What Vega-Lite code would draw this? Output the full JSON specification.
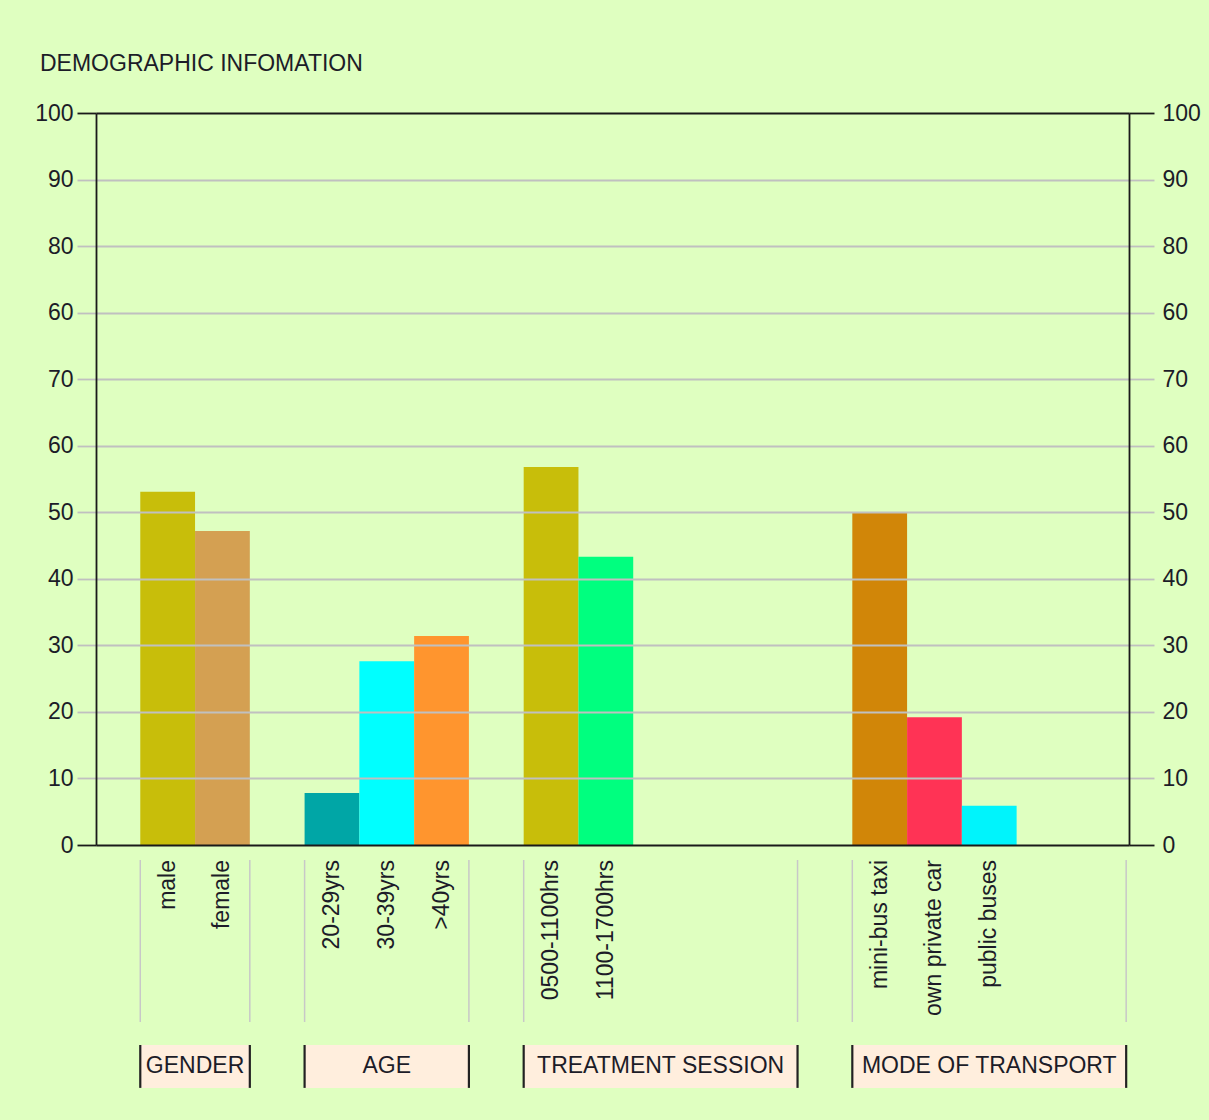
{
  "$schema": "https://vega.github.io/schema/vega-lite/v6.json",
  "width": 1033,
  "height": 732,
  "autosize": {"type": "none"},
  "padding": {"left": 96, "top": 113, "right": 80, "bottom": 275},
  "background": "#DFFFC0",
  "config": {
    "font": "Liberation Sans",
    "view": {"stroke": null}
  },
  "title": {
    "text": "DEMOGRAPHIC INFOMATION",
    "anchor": "start",
    "frame": "group",
    "dx": -56,
    "offset": 8,
    "fontSize": 23,
    "fontWeight": "normal",
    "color": "#1c1c28",
    "baseline": "alphabetic"
  },
  "datasets": {
    "bars": [
      {"category": "male", "value": 53.1},
      {"category": "female", "value": 47.2},
      {"category": "20-29yrs", "value": 7.8},
      {"category": "30-39yrs", "value": 27.6},
      {"category": ">40yrs", "value": 31.4},
      {"category": "0500-1100hrs", "value": 56.8},
      {"category": "1100-1700hrs", "value": 43.3},
      {"category": "mini-bus taxi", "value": 50.0},
      {"category": "own private car", "value": 19.2},
      {"category": "public buses", "value": 5.9}
    ],
    "groups": [
      {"group": "GENDER", "first": "male", "last": "female", "mid": "female"},
      {"group": "AGE", "first": "20-29yrs", "last": ">40yrs", "mid": "30-39yrs"},
      {"group": "TREATMENT SESSION", "first": "0500-1100hrs", "last": "gap5", "mid": "gap3"},
      {"group": "MODE OF TRANSPORT", "first": "mini-bus taxi", "last": "gap8", "mid": "public buses"}
    ]
  },
  "layer": [
    {
      "data": {"name": "bars"},
      "mark": {"type": "bar"},
      "encoding": {
        "x": {
          "field": "category",
          "type": "nominal",
          "sort": null,
          "scale": {
            "domain": ["male", "female", "gap1", "20-29yrs", "30-39yrs", ">40yrs", "gap2", "0500-1100hrs", "1100-1700hrs", "gap3", "gap4", "gap5", "gap6", "mini-bus taxi", "own private car", "public buses", "gap7", "gap8"],
            "paddingInner": 0,
            "paddingOuter": 0.43,
            "align": 0.94
          },
          "axis": null
        },
        "y": {
          "field": "value",
          "type": "quantitative",
          "scale": {"domain": [0, 110], "nice": false},
          "axis": {
            "orient": "left",
            "title": null,
            "values": [0, 10, 20, 30, 40, 50, 60, 70, 80, 90, 100, 110],
            "labelExpr": "datum.value == 80 ? '60' : datum.value == 90 ? '80' : datum.value == 100 ? '90' : datum.value == 110 ? '100' : datum.label",
            "grid": true,
            "gridColor": {"condition": {"test": "datum.value == 0 || datum.value == 110", "value": "#1a1a1a"}, "value": "#C0C0C0"},
            "gridWidth": 1.8,
            "tickSize": 19,
            "tickWidth": 1.8,
            "tickColor": {"condition": {"test": "datum.value == 0 || datum.value == 110", "value": "#1a1a1a"}, "value": "#C0C0C0"},
            "domainColor": "#1a1a1a",
            "domainWidth": 1.8,
            "labelFontSize": 23,
            "labelColor": "#1c1c28",
            "labelPadding": 4,
            "zindex": 1
          }
        },
        "color": {
          "field": "category",
          "type": "nominal",
          "scale": {
            "domain": ["male", "female", "20-29yrs", "30-39yrs", ">40yrs", "0500-1100hrs", "1100-1700hrs", "mini-bus taxi", "own private car", "public buses"],
            "range": ["#C8BE0A", "#D4A052", "#00A6A6", "#00FFFF", "#FF952E", "#C8BE0A", "#00FF7F", "#D18608", "#FF3355", "#00F4FC"]
          },
          "legend": null
        }
      }
    },
    {
      "data": {"name": "bars"},
      "mark": {"type": "point", "opacity": 0},
      "encoding": {
        "x": {"field": "category", "type": "nominal", "axis": null},
        "y": {
          "field": "value",
          "type": "quantitative",
          "axis": {
            "orient": "right",
            "title": null,
            "values": [0, 10, 20, 30, 40, 50, 60, 70, 80, 90, 100, 110],
            "labelExpr": "datum.value == 80 ? '60' : datum.value == 90 ? '80' : datum.value == 100 ? '90' : datum.value == 110 ? '100' : datum.label",
            "grid": false,
            "tickSize": 25,
            "tickWidth": 1.8,
            "tickColor": {"condition": {"test": "datum.value == 0 || datum.value == 110", "value": "#1a1a1a"}, "value": "#C0C0C0"},
            "domainColor": "#1a1a1a",
            "domainWidth": 1.8,
            "labelFontSize": 23,
            "labelColor": "#1c1c28",
            "labelPadding": 8,
            "zindex": 1
          }
        }
      }
    },
    {
      "data": {"name": "bars"},
      "mark": {"type": "text", "angle": 270, "align": "right", "baseline": "middle", "fontSize": 23, "color": "#1c1c28"},
      "encoding": {
        "x": {"field": "category", "type": "nominal", "axis": null},
        "y": {"datum": -2.25, "type": "quantitative", "axis": null},
        "text": {"field": "category"}
      }
    },
    {
      "data": {"name": "groups"},
      "mark": {"type": "rule", "color": "#C8C8C8", "strokeWidth": 1.5},
      "encoding": {
        "x": {"field": "first", "type": "nominal", "bandPosition": 0, "axis": null},
        "y": {"datum": -2.25, "type": "quantitative", "axis": null},
        "y2": {"datum": -26.6}
      }
    },
    {
      "data": {"name": "groups"},
      "mark": {"type": "rule", "color": "#C8C8C8", "strokeWidth": 1.5},
      "encoding": {
        "x": {"field": "last", "type": "nominal", "bandPosition": 1, "axis": null},
        "y": {"datum": -2.25, "type": "quantitative", "axis": null},
        "y2": {"datum": -26.6}
      }
    },
    {
      "data": {"name": "groups"},
      "mark": {"type": "rect", "color": "#FFEEDD"},
      "encoding": {
        "x": {"field": "first", "type": "nominal", "bandPosition": 0, "axis": null},
        "x2": {"field": "last", "bandPosition": 1},
        "y": {"datum": -30.05, "type": "quantitative", "axis": null},
        "y2": {"datum": -36.5}
      }
    },
    {
      "data": {"name": "groups"},
      "mark": {"type": "rule", "color": "#222222", "strokeWidth": 2.2},
      "encoding": {
        "x": {"field": "first", "type": "nominal", "bandPosition": 0, "axis": null},
        "y": {"datum": -30.05, "type": "quantitative", "axis": null},
        "y2": {"datum": -36.5}
      }
    },
    {
      "data": {"name": "groups"},
      "mark": {"type": "rule", "color": "#222222", "strokeWidth": 2.2},
      "encoding": {
        "x": {"field": "last", "type": "nominal", "bandPosition": 1, "axis": null},
        "y": {"datum": -30.05, "type": "quantitative", "axis": null},
        "y2": {"datum": -36.5}
      }
    },
    {
      "data": {"name": "groups"},
      "transform": [{"filter": "datum.group == 'GENDER'"}],
      "mark": {"type": "text", "fontSize": 23, "color": "#1c1c28", "align": "center", "baseline": "middle"},
      "encoding": {
        "x": {"field": "mid", "type": "nominal", "bandPosition": 0, "axis": null},
        "y": {"datum": -33.2, "type": "quantitative", "axis": null},
        "text": {"field": "group"}
      }
    },
    {
      "data": {"name": "groups"},
      "transform": [{"filter": "datum.group != 'GENDER'"}],
      "mark": {"type": "text", "fontSize": 23, "color": "#1c1c28", "align": "center", "baseline": "middle"},
      "encoding": {
        "x": {"field": "mid", "type": "nominal", "bandPosition": 0.5, "axis": null},
        "y": {"datum": -33.2, "type": "quantitative", "axis": null},
        "text": {"field": "group"}
      }
    }
  ],
  "resolve": {"axis": {"y": "independent"}}
}
